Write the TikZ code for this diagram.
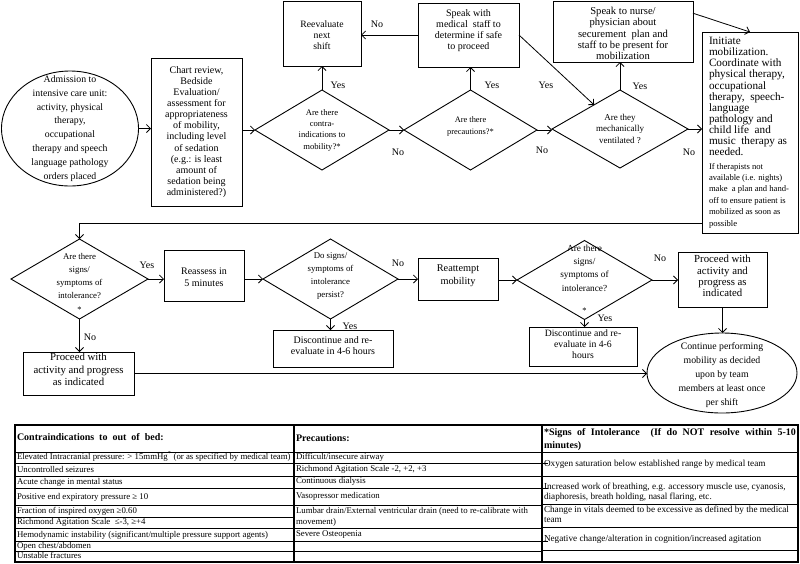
\documentclass[tikz,border=0pt]{standalone}
\usepackage{fontspec}
\setmainfont{Liberation Serif}
\usetikzlibrary{shapes.geometric,arrows.meta,calc}
\newcommand\myfs[2]{\fontsize{#1}{#2}\selectfont}
\begin{document}
\begin{tikzpicture}[x=1pt,y=-1pt,
  every node/.style={inner sep=0pt,outer sep=0pt},
  box/.style={draw,line width=0.9pt},
  dia/.style={draw,diamond,line width=0.9pt},
  ell/.style={draw,ellipse,line width=0.9pt},
  txt/.style={align=center},
  lbl/.style={font=\myfs{10}{11},text height=6.5pt,text depth=0pt},
  arr/.style={line width=0.8pt,-{Straight Barb[length=4pt,width=8pt]}},
  tb/.style={anchor=west,font=\myfs{8.8}{10},text height=6pt,text depth=2pt},
  tbc/.style={anchor=west,font=\myfs{9.2}{10},text height=6pt,text depth=2pt},
  th/.style={anchor=west,font=\myfs{10}{12.5}\bfseries,text height=7pt,text depth=2pt},
  thin line/.style={line width=0.6pt},
  thick line/.style={line width=1.4pt},
]
\useasboundingbox (0,0) rectangle (800,563);
\fill[white] (0,0) rectangle (800,563);

% ---------- row 1 ----------
\node[ell,minimum width=137,minimum height=115] (adm) at (70,128.5) {};
\node[txt,font=\myfs{9.8}{13.9}] (admt) at (70,128.5) {Admission to\\intensive care unit:\\activity, physical\\therapy,\\occupational\\therapy and speech\\language pathology\\orders placed};

\node[box,minimum width=91,minimum height=148] (chart) at (196.5,132) {};
\node[txt,font=\myfs{10}{11.1}] (chartt) at (196.5,132) {Chart review,\\Bedside\\Evaluation/\\assessment for\\appropriateness\\of mobility,\\including level\\of sedation\\(e.g.: is least\\amount of\\sedation being\\administered?)};

\node[dia,minimum width=134,minimum height=80] (d1) at (322,130) {};
\node[txt,font=\myfs{8.6}{11.3}] (d1t) at (322,130) {Are there\\contra-\\indications to\\mobility?*};

\node[dia,minimum width=133,minimum height=80] (d2) at (470.5,130) {};
\node[txt,font=\myfs{8.4}{12}] (d2t) at (470.5,126) {Are there\\precautions?*};

\node[dia,minimum width=136,minimum height=78] (d3) at (620,129) {};
\node[txt,font=\myfs{9}{11.5}] (d3t) at (620,128.5) {Are they\\mechanically\\ventilated ?};

\node[box,minimum width=78,minimum height=65] (reeval) at (322,33.5) {};
\node[txt,font=\myfs{9.7}{11}] (reevalt) at (322,35) {Reevaluate\\next\\shift};

\node[box,minimum width=101,minimum height=64] (speakmed) at (468.5,35) {};
\node[txt,font=\myfs{10}{11}] (speakmedt) at (468.5,30.5) {Speak with\\medical~ staff to\\determine if safe\\to proceed};

\node[box,minimum width=140,minimum height=61] (nurse) at (623,31.5) {};
\node[txt,font=\myfs{10.6}{11.2}] (nurset) at (623,33.5) {Speak to nurse/\\physician about\\securement~ plan and\\staff to be present for\\mobilization};

\node[box,minimum width=96,minimum height=201] (initiate) at (750,132.5) {};
\node[align=left,anchor=west,font=\myfs{11.2}{11.1}] (initt) at (709,96.5) {Initiate\\mobilization.\\Coordinate with\\physical therapy,\\occupational\\therapy,~ speech-\\language\\pathology and\\child life~ and\\music~ therapy as\\needed.};
\node[align=left,anchor=west,font=\myfs{8.6}{11.4}] (initt2) at (709,195.5) {If therapists not\\available (i.e. nights)\\make~ a plan and hand-\\off to ensure patient is\\mobilized as soon as\\possible};

% ---------- row 2 ----------
\node[dia,minimum width=137,minimum height=80] (dA) at (79.5,279) {};
\node[txt,font=\myfs{8.8}{13.2}] (dAt) at (79.5,276) {Are there\\signs/\\symptoms of\\intolerance?};
\node[font=\myfs{8.5}{10}] (dAs) at (79.5,310) {*};

\node[box,minimum width=80,minimum height=51] (reassess) at (204,275.5) {};
\node[txt,font=\myfs{10}{12}] (reassesst) at (204,277) {Reassess in\\5 minutes};

\node[dia,minimum width=135,minimum height=80] (dB) at (330.5,279) {};
\node[txt,font=\myfs{8.8}{13.2}] (dBt) at (330.5,276) {Do signs/\\symptoms of\\intolerance\\persist?};

\node[box,minimum width=120,minimum height=37] (disc1) at (333,348.5) {};
\node[txt,font=\myfs{10}{11}] (disc1t) at (333,345.5) {Discontinue and re-\\evaluate in 4-6 hours};

\node[box,minimum width=111,minimum height=43] (proceed1) at (78.5,373.5) {};
\node[txt,font=\myfs{10.8}{12.3}] (proceed1t) at (78.5,369.5) {Proceed with\\activity and progress\\as indicated};

\node[box,minimum width=80,minimum height=42] (reattempt) at (458,279) {};
\node[txt,font=\myfs{10.3}{13}] (reattemptt) at (458,275.5) {Reattempt\\mobility};

\node[dia,minimum width=135,minimum height=79] (dC) at (584.5,280) {};
\node[txt,font=\myfs{9.3}{13.3}] (dCt) at (584.5,268) {Are there\\signs/\\symptoms of\\intolerance?};
\node[font=\myfs{8.5}{10}] (dCs) at (584.5,311) {*};

\node[box,minimum width=89,minimum height=55] (proceed2) at (722.5,279.5) {};
\node[txt,font=\myfs{10.8}{11.3}] (proceed2t) at (722.5,276) {Proceed with\\activity and\\progress as\\indicated};

\node[box,minimum width=108,minimum height=39] (disc2) at (583,346.5) {};
\node[txt,font=\myfs{9.7}{11}] (disc2t) at (583,344) {Discontinue and re-\\evaluate in 4-6\\hours};

\node[ell,minimum width=150,minimum height=80] (ell2) at (722,373) {};
\node[txt,font=\myfs{9.8}{14}] (ell2t) at (722,375.5) {Continue performing\\mobility as decided\\upon by team\\members at least once\\per shift};

% ---------- connectors ----------
\draw[arr] (adm.east) -- (adm.east -| chart.west);
\draw[arr] (chart.east |- d1.west) -- (d1.west);
\draw[arr] (d1.north) -- (d1.north |- reeval.south);
\draw[arr] (d1.east) -- (d2.west);
\draw[arr] (d2.north) -- (d2.north |- speakmed.south);
\draw[arr] (speakmed.west) -- (speakmed.west -| reeval.east);
\draw[arr] (speakmed.east) -- (d3);
\draw[arr] (d2.east) -- (d2.east -| d3.west);
\draw[arr] (d3.north) -- (d3.north |- nurse.south);
\draw[arr] ($(nurse.north east)!0.2!(nurse.south east)$) -- (initiate.north);
\draw[arr] (d3.east) -- (d3.east -| initiate.west);
\draw[arr] ($(initiate.south west)+(0,-10)$) -| (dA.north);
\draw[arr] (dA.east) -- (dA.east -| reassess.west);
\draw[arr] (reassess.east |- dB.west) -- (dB.west);
\draw[arr] (dB.east) -- (dB.east -| reattempt.west);
\draw[arr] (dB.south) -- (dB.south |- disc1.north);
\draw[arr] (dA.south) -- (dA.south |- proceed1.north);
\draw[arr] (proceed1.east) -- (proceed1.east -| ell2.west);
\draw[arr] (reattempt.east |- dC.west) -- (dC.west);
\draw[arr] (dC.east) -- (dC.east -| proceed2.west);
\draw[arr] (dC.south) -- (dC.south |- disc2.north);
\draw[arr] (proceed2.south) -- (proceed2.south |- ell2.north);

% ---------- labels ----------
\node[lbl] (l1) at (338,85) {Yes};
\node[lbl] (l2) at (398,152) {No};
\node[lbl] (l3) at (492,85) {Yes};
\node[lbl] (l4) at (542,150) {No};
\node[lbl] (l5) at (377,24) {No};
\node[lbl] (l6) at (546,85) {Yes};
\node[lbl] (l7) at (640,86) {Yes};
\node[lbl] (l8) at (689,152) {No};
\node[lbl] (l9) at (147,265) {Yes};
\node[lbl] (l10) at (90,337) {No};
\node[lbl] (l11) at (398,263) {No};
\node[lbl] (l12) at (350,326) {Yes};
\node[lbl] (l13) at (660,258) {No};
\node[lbl] (l14) at (605,318) {Yes};

% ---------- table ----------
\draw[thick line] (15,425) rectangle (798,562);
\draw[thick line] (294,425) -- (294,562);
\draw[thick line] (542,425) -- (542,562);
\draw[line width=1pt] (15,452) -- (798,452);
\foreach \yy in {463,476,488,505,517,528,541,551} \draw[thin line] (15,\yy) -- (294,\yy);
\foreach \yy in {476,505,528,551} \draw[thin line] (294,\yy) -- (542,\yy);
\foreach \yy in {463,488,541} \draw[thin line] (294,\yy) -- (548,\yy);
\foreach \yy in {476,504,527,550} \draw[thin line] (542,\yy) -- (798,\yy);

\node[th] (h1) at (17,438) {Contraindications~ to~ out~ of~ bed:};
\node[th] (h2) at (296,439) {Precautions:};
\node[anchor=west,font=\myfs{10}{13}\bfseries] (h3) at (544,439.5) {\parbox{252pt}{*Signs of Intolerance~ (If do NOT resolve within 5-10\linebreak minutes)}};

\node[tb] (a1) at (17,457) {Elevated Intracranial pressure: > 15mmHg\textsuperscript{*} (or as specified by medical team)};
\node[tb] (a2) at (17,470) {Uncontrolled seizures};
\node[tb] (a3) at (17,482) {Acute change in mental status};
\node[tb] (a4) at (17,497) {Positive end expiratory pressure ≥ 10};
\node[tb] (a5) at (17,511) {Fraction of inspired oxygen ≥0.60};
\node[tb] (a6) at (17,522) {Richmond Agitation Scale~ ≤-3, ≥+4};
\node[tb] (a7) at (17,535) {Hemodynamic instability (significant/multiple pressure support agents)};
\node[tb] (a8) at (17,546) {Open chest/abdomen};
\node[tb] (a9) at (17,556) {Unstable fractures};

\node[tb] (b1) at (296,457) {Difficult/insecure airway};
\node[tb] (b2) at (296,469) {Richmond Agitation Scale -2, +2, +3};
\node[tb] (b3) at (296,481) {Continuous dialysis};
\node[tb] (b4) at (296,496) {Vasopressor medication};
\node[tb] (b5) at (296,511) {Lumbar drain/External ventricular drain (need to re-calibrate with};
\node[tb] (b5b) at (296,522) {movement)};
\node[tb] (b6) at (296,534) {Severe Osteopenia};

\node[tbc] (c1) at (544,464) {Oxygen saturation below established range by medical team};
\node[tbc] (c2) at (544,487) {Increased work of breathing, e.g. accessory muscle use, cyanosis,};
\node[tbc] (c2b) at (544,497) {diaphoresis, breath holding, nasal flaring, etc.};
\node[tbc] (c3) at (544,510) {Change in vitals deemed to be excessive as defined by the medical};
\node[tbc] (c3b) at (544,520) {team};
\node[tbc] (c4) at (544,539) {Negative change/alteration in cognition/increased agitation};
\end{tikzpicture}
\end{document}
